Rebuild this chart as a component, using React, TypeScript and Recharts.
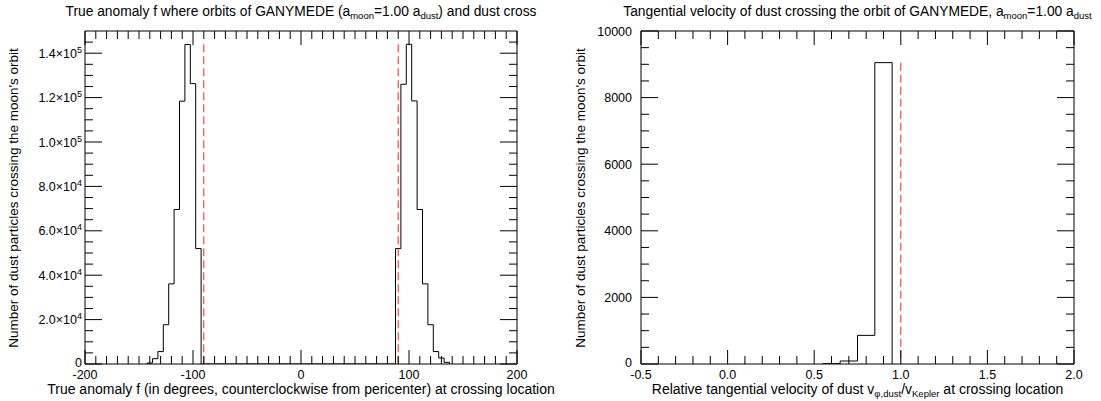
import React from 'react';
import { ComposedChart, Line, XAxis, YAxis, ReferenceLine } from 'recharts';

// ---------- data ----------
const anomalyBinWidth = 5;
const anomalyBinCenters = [-140, -135, -130, -125, -120, -115, -110, -105, -100, -95, 90, 95, 100, 105, 110, 115, 120, 125, 130, 135];
const anomalyCounts = [450, 2400, 5600, 17700, 36100, 69600, 118400, 143900, 126300, 52000, 52000, 126000, 144000, 118500, 69600, 36100, 17700, 5600, 2700, 750];
const anomalyMoonLines = [-90, 90];

const velocityBinWidth = 0.1;
const velocityBinCenters = [0.6, 0.7, 0.8, 0.9];
const velocityCounts = [10, 90, 860, 9050];
const velocityMoonLines = [1.0];

const anomalyDomain = [-200, 200];
const anomalyMajorTicks = [-200, -100, 0, 100, 200];
const anomalyCountDomain = [0, 150000];
const anomalyCountMajorTicks = [0, 20000, 40000, 60000, 80000, 100000, 120000, 140000];

const velocityDomain = [-0.5, 2.0];
const velocityMajorLabels = ['-0.5', '0.0', '0.5', '1.0', '1.5', '2.0'];
const velocityCountDomain = [0, 10000];
const velocityCountMajorTicks = [0, 2000, 4000, 6000, 8000, 10000];

const FONT = '"Liberation Sans", Arial, Helvetica, sans-serif';
const TICK_FS = 12.5;

// ---------- helpers ----------
function buildSteps(centers: number[], counts: number[], width: number) {
  const pts: { x: number; y: number }[] = [];
  let prevEnd: number | null = null;
  centers.forEach((c, i) => {
    const start = c - width / 2;
    if (prevEnd === null) pts.push({ x: start, y: 0 });
    else if (Math.abs(start - prevEnd) > 1e-9) {
      pts.push({ x: prevEnd, y: 0 });
      pts.push({ x: start, y: 0 });
    }
    pts.push({ x: start, y: counts[i] });
    prevEnd = c + width / 2;
  });
  pts.push({ x: prevEnd as number, y: 0 });
  return pts;
}

function range(start: number, stop: number, step: number, scale = 1) {
  const out: number[] = [];
  for (let k = Math.round(start / step); k <= Math.round(stop / step); k++) out.push((k * step) / scale);
  return out;
}

const near = (a: number, b: number) => Math.abs(a - b) < 1e-6;
const inList = (v: number, list: number[]) => list.some((m) => near(m, v));

type TickOpts = {
  side: 'bottom' | 'top' | 'left' | 'right';
  isMajor: (v: number) => boolean;
  majorLen: number;
  minorLen: number;
  label?: (v: number) => React.ReactNode;
  labelGap?: number;
};

function makeTick(o: TickOpts) {
  return (p: any) => {
    const v = p.payload.value as number;
    const big = o.isMajor(v);
    const len = big ? o.majorLen : o.minorLen;
    const x = p.x as number;
    const y = p.y as number;
    let x2 = x, y2 = y;
    if (o.side === 'bottom') y2 = y - len;
    if (o.side === 'top') y2 = y + len;
    if (o.side === 'left') x2 = x + len;
    if (o.side === 'right') x2 = x - len;
    let lab: React.ReactNode = null;
    if (big && o.label) {
      if (o.side === 'bottom')
        lab = (
          <text x={x} y={y + 15} textAnchor="middle" fontSize={TICK_FS} fill="#000" fontFamily={FONT}>
            {o.label(v)}
          </text>
        );
      else if (o.side === 'left')
        lab = (
          <text x={x - (o.labelGap ?? 5)} y={y + (v === 0 ? 3 : 4.5)} textAnchor="end" fontSize={TICK_FS} fill="#000" fontFamily={FONT}>
            {o.label(v)}
          </text>
        );
    }
    return (
      <g>
        <line x1={x} y1={y} x2={x2} y2={y2} stroke="#000" strokeWidth={1} />
        {lab}
      </g>
    );
  };
}

function sciLabel(v: number): React.ReactNode {
  if (v === 0) return '0';
  const e = Math.floor(Math.log10(v) + 1e-9);
  const m = v / Math.pow(10, e);
  return (
    <>
      <tspan>{m.toFixed(1) + '\u00d710'}</tspan>
      <tspan dy={-5} fontSize={9}>{String(e)}</tspan>
    </>
  );
}

const anomalySteps = buildSteps(anomalyBinCenters, anomalyCounts, anomalyBinWidth);
const velocitySteps = buildSteps(velocityBinCenters, velocityCounts, velocityBinWidth);
const anomalyMax = Math.max(...anomalyCounts);
const velocityMax = Math.max(...velocityCounts);

const anomalyXTicks = range(anomalyDomain[0], anomalyDomain[1], 10);
const anomalyYTicks = range(0, 145000, 5000);
const velocityXTicks = range(-5, 20, 1, 10);
const velocityYTicks = range(0, 10000, 500);
const velocityMajorValues = velocityMajorLabels.map(Number);

const axisLine = { stroke: '#000', strokeWidth: 1 };

function Sub({ children, size }: { children: React.ReactNode; size: number }) {
  return <span style={{ fontSize: size, verticalAlign: '-3px' }}>{children}</span>;
}

function CenteredText({ cx, top, size, lh, children }: { cx: number; top: number; size: number; lh: number; children: React.ReactNode }) {
  return (
    <div
      style={{
        position: 'absolute',
        left: cx - 300,
        top,
        width: 600,
        textAlign: 'center',
        fontSize: size,
        lineHeight: lh + 'px',
        whiteSpace: 'nowrap',
        fontFamily: FONT,
        color: '#000',
      }}
    >
      {children}
    </div>
  );
}

function VerticalText({ cx, cy, children }: { cx: number; cy: number; children: React.ReactNode }) {
  return (
    <div
      style={{
        position: 'absolute',
        left: cx - 200,
        top: cy - 8,
        width: 400,
        height: 16,
        textAlign: 'center',
        fontSize: 13.5,
        lineHeight: '16px',
        whiteSpace: 'nowrap',
        fontFamily: FONT,
        color: '#000',
        transform: 'rotate(-90deg)',
        transformOrigin: '50% 50%',
      }}
    >
      {children}
    </div>
  );
}

export default function App() {
  return (
    <div style={{ position: 'absolute', left: 0, top: 0, width: 1101, height: 401, background: '#fff', overflow: 'hidden' }}>
      {/* Left chart */}
      <div style={{ position: 'absolute', left: 0, top: 0 }}>
        <ComposedChart width={550} height={401} data={anomalySteps} margin={{ top: 21, right: 23, bottom: 17, left: 25 }}>
          <XAxis
            xAxisId="b"
            dataKey="x"
            type="number"
            domain={anomalyDomain}
            ticks={anomalyXTicks}
            interval={0}
            allowDataOverflow
            height={20}
            tickSize={0}
            tickMargin={0}
            axisLine={axisLine}
            tickLine={false}
            tick={makeTick({ side: 'bottom', isMajor: (v) => inList(v, anomalyMajorTicks), majorLen: 14, minorLen: 8, label: (v) => String(v) })}
          />
          <XAxis
            xAxisId="t"
            orientation="top"
            dataKey="x"
            type="number"
            domain={anomalyDomain}
            ticks={anomalyXTicks}
            interval={0}
            allowDataOverflow
            height={10}
            tickSize={0}
            tickMargin={0}
            axisLine={axisLine}
            tickLine={false}
            tick={makeTick({ side: 'top', isMajor: (v) => inList(v, anomalyMajorTicks), majorLen: 14, minorLen: 8 })}
          />
          <YAxis
            yAxisId="l"
            type="number"
            domain={anomalyCountDomain}
            ticks={anomalyYTicks}
            interval={0}
            allowDataOverflow
            width={60}
            tickSize={0}
            tickMargin={0}
            axisLine={axisLine}
            tickLine={false}
            tick={makeTick({ side: 'left', isMajor: (v) => inList(v, anomalyCountMajorTicks), majorLen: 17, minorLen: 8, label: sciLabel, labelGap: 3 })}
          />
          <YAxis
            yAxisId="r"
            orientation="right"
            type="number"
            domain={anomalyCountDomain}
            ticks={anomalyYTicks}
            interval={0}
            allowDataOverflow
            width={10}
            tickSize={0}
            tickMargin={0}
            axisLine={axisLine}
            tickLine={false}
            tick={makeTick({ side: 'right', isMajor: (v) => inList(v, anomalyCountMajorTicks), majorLen: 17, minorLen: 8 })}
          />
          <Line xAxisId="b" yAxisId="l" type="stepAfter" dataKey="y" stroke="#000" strokeWidth={1} dot={false} activeDot={false} isAnimationActive={false} />
          <Line xAxisId="t" yAxisId="r" type="stepAfter" dataKey="y" stroke="none" dot={false} activeDot={false} isAnimationActive={false} />
          {anomalyMoonLines.map((m) => (
            <ReferenceLine
              key={m}
              xAxisId="b"
              yAxisId="l"
              segment={[{ x: m, y: anomalyMax }, { x: m, y: 0 }]}
              stroke="#ff2020"
              strokeWidth={1}
              strokeDasharray="8 4"
            />
          ))}
        </ComposedChart>
      </div>

      {/* Right chart */}
      <div style={{ position: 'absolute', left: 551, top: 0 }}>
        <ComposedChart width={550} height={401} data={velocitySteps} margin={{ top: 21, right: 17, bottom: 17, left: 30 }}>
          <XAxis
            xAxisId="b"
            dataKey="x"
            type="number"
            domain={velocityDomain}
            ticks={velocityXTicks}
            interval={0}
            allowDataOverflow
            height={20}
            tickSize={0}
            tickMargin={0}
            axisLine={axisLine}
            tickLine={false}
            tick={makeTick({ side: 'bottom', isMajor: (v) => inList(v, velocityMajorValues), majorLen: 14, minorLen: 8, label: (v) => v.toFixed(1) })}
          />
          <XAxis
            xAxisId="t"
            orientation="top"
            dataKey="x"
            type="number"
            domain={velocityDomain}
            ticks={velocityXTicks}
            interval={0}
            allowDataOverflow
            height={10}
            tickSize={0}
            tickMargin={0}
            axisLine={axisLine}
            tickLine={false}
            tick={makeTick({ side: 'top', isMajor: (v) => inList(v, velocityMajorValues), majorLen: 14, minorLen: 8 })}
          />
          <YAxis
            yAxisId="l"
            type="number"
            domain={velocityCountDomain}
            ticks={velocityYTicks}
            interval={0}
            allowDataOverflow
            width={60}
            tickSize={0}
            tickMargin={0}
            axisLine={axisLine}
            tickLine={false}
            tick={makeTick({ side: 'left', isMajor: (v) => inList(v, velocityCountMajorTicks), majorLen: 17, minorLen: 8, label: (v) => String(v), labelGap: 9 })}
          />
          <YAxis
            yAxisId="r"
            orientation="right"
            type="number"
            domain={velocityCountDomain}
            ticks={velocityYTicks}
            interval={0}
            allowDataOverflow
            width={10}
            tickSize={0}
            tickMargin={0}
            axisLine={axisLine}
            tickLine={false}
            tick={makeTick({ side: 'right', isMajor: (v) => inList(v, velocityCountMajorTicks), majorLen: 17, minorLen: 8 })}
          />
          <Line xAxisId="b" yAxisId="l" type="stepAfter" dataKey="y" stroke="#000" strokeWidth={1} dot={false} activeDot={false} isAnimationActive={false} />
          <Line xAxisId="t" yAxisId="r" type="stepAfter" dataKey="y" stroke="none" dot={false} activeDot={false} isAnimationActive={false} />
          {velocityMoonLines.map((m) => (
            <ReferenceLine
              key={m}
              xAxisId="b"
              yAxisId="l"
              segment={[{ x: m, y: velocityMax }, { x: m, y: 0 }]}
              stroke="#ff2020"
              strokeWidth={1}
              strokeDasharray="8 4"
            />
          ))}
        </ComposedChart>
      </div>

      {/* Titles & axis labels */}
      <CenteredText cx={301} top={3} size={13.8} lh={18}>
        True anomaly f where orbits of GANYMEDE (a<Sub size={9.5}>moon</Sub>=1.00 a<Sub size={9.5}>dust</Sub>) and dust cross
      </CenteredText>
      <CenteredText cx={857.5} top={3} size={13.8} lh={18}>
        Tangential velocity of dust crossing the orbit of GANYMEDE, a<Sub size={9.5}>moon</Sub>=1.00 a<Sub size={9.5}>dust</Sub>
      </CenteredText>
      <CenteredText cx={301} top={381} size={14} lh={16}>
        True anomaly f (in degrees, counterclockwise from pericenter) at crossing location
      </CenteredText>
      <CenteredText cx={857.5} top={381} size={14} lh={16}>
        Relative tangential velocity of dust v<Sub size={9.5}>{'\u03c6,dust'}</Sub>/v<Sub size={9.5}>Kepler</Sub> at crossing location
      </CenteredText>
      <VerticalText cx={14} cy={197.5}>Number of dust particles crossing the moon's orbit</VerticalText>
      <VerticalText cx={581} cy={197.5}>Number of dust particles crossing the moon's orbit</VerticalText>
    </div>
  );
}
